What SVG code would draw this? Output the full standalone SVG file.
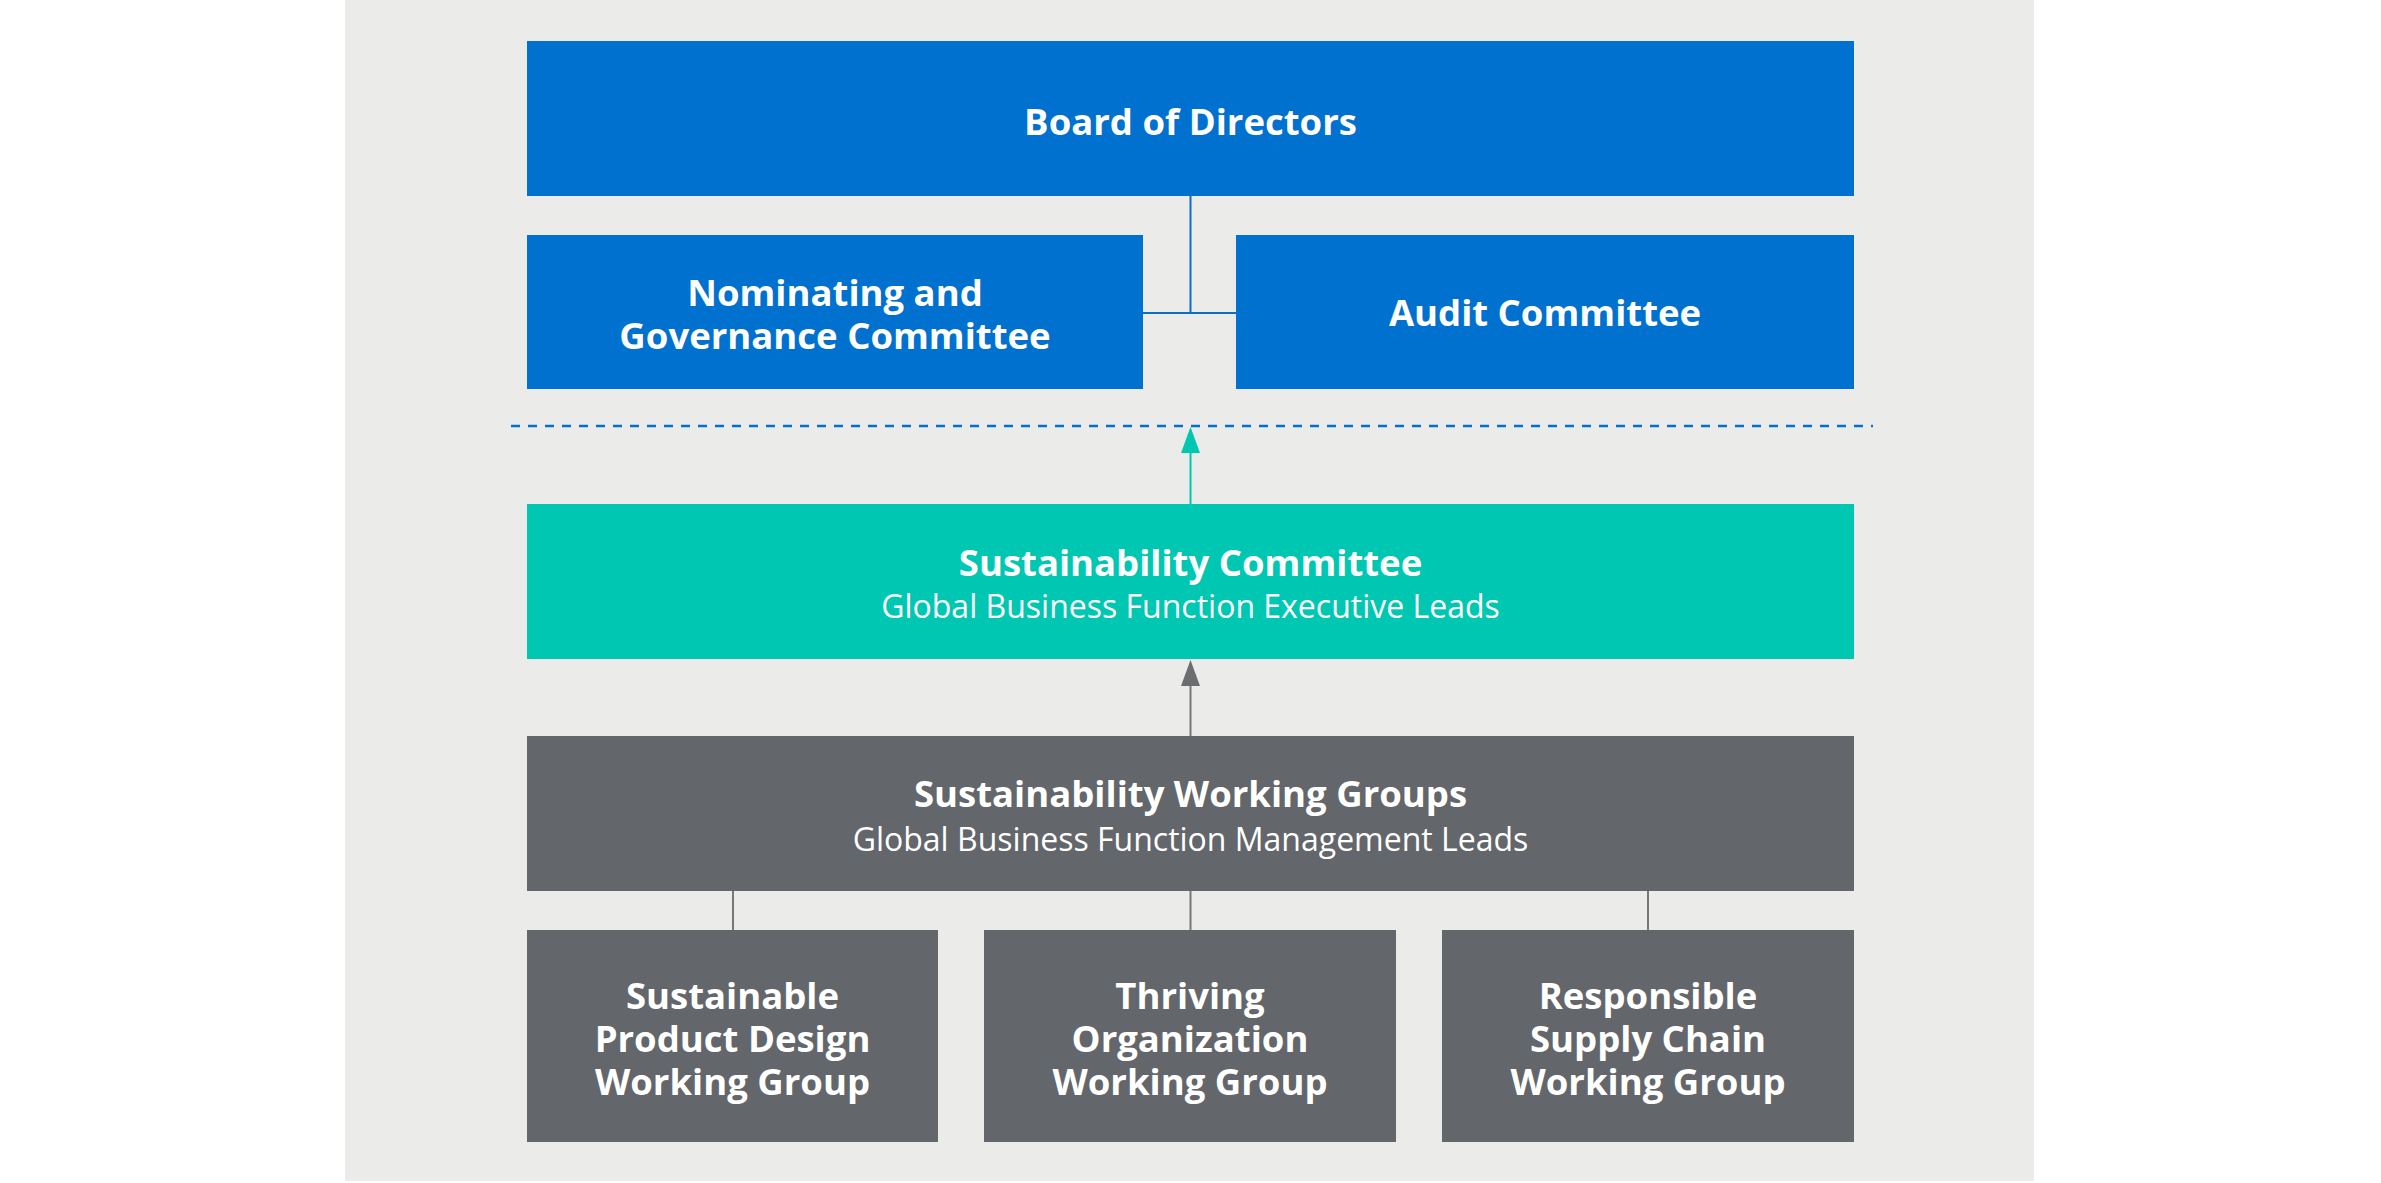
<svg xmlns="http://www.w3.org/2000/svg" width="2381" height="1183" viewBox="0 0 2381 1183">
  <style>
    .blue { fill: #0071ce; }
    .teal { fill: #00c7b2; }
    .gray { fill: #63666a; }
    .t { font-family: "Open Sans", "Noto Sans", "Liberation Sans", sans-serif; fill: #ffffff; text-anchor: middle; }
    .b { font-weight: 700; font-size: 36.5px; }
    .r { font-weight: 400; font-size: 32px; }
    .cb { stroke: #0d6fc4; stroke-width: 2; fill: none; }
    .ct { stroke: #00c7b2; stroke-width: 2; fill: none; }
    .cg { stroke: #76777a; stroke-width: 2; fill: none; }
  </style>
  <rect x="0" y="0" width="2381" height="1183" fill="#ffffff"/>
  <rect x="345" y="0" width="1689" height="1181" fill="#ebebe9"/>

  <g id="connectors">
    <path class="cb" d="M1190.5,196 V313 M1143,313 H1236"/>
    <path d="M511,426 H1873" stroke="#0071ce" stroke-width="2.5" stroke-dasharray="9 8" fill="none"/>
    <path class="ct" d="M1190.5,504 V450"/>
    <path d="M1190.5,427 L1181,453 L1200,453 Z" fill="#00c7b2"/>
    <path class="cg" d="M1190.5,736 V682"/>
    <path d="M1190.5,660 L1181,686 L1200,686 Z" fill="#6b6d70"/>
    <path class="cg" d="M733,891 V930 M1190.5,891 V930 M1648,891 V930"/>
  </g>

  <g id="board">
    <rect class="blue" x="527" y="41" width="1327" height="155"/>
    <text class="t b" x="1190.5" y="134.5">Board of Directors</text>
  </g>
  <g id="nominating">
    <rect class="blue" x="527" y="235" width="616" height="154"/>
    <text class="t b" x="835" y="305.5">Nominating and</text>
    <text class="t b" x="835" y="348.5">Governance Committee</text>
  </g>
  <g id="audit">
    <rect class="blue" x="1236" y="235" width="618" height="154"/>
    <text class="t b" x="1545" y="326">Audit Committee</text>
  </g>
  <g id="sustainability-committee">
    <rect class="teal" x="527" y="504" width="1327" height="155"/>
    <text class="t b" x="1190.5" y="575.5">Sustainability Committee</text>
    <text class="t r" x="1190.5" y="618">Global Business Function Executive Leads</text>
  </g>
  <g id="working-groups">
    <rect class="gray" x="527" y="736" width="1327" height="155"/>
    <text class="t b" x="1190.5" y="807">Sustainability Working Groups</text>
    <text class="t r" x="1190.5" y="851">Global Business Function Management Leads</text>
  </g>
  <g id="product-design">
    <rect class="gray" x="527" y="930" width="411" height="212"/>
    <text class="t b" x="732.5" y="1008.5">Sustainable</text>
    <text class="t b" x="732.5" y="1051.5">Product Design</text>
    <text class="t b" x="732.5" y="1094.5">Working Group</text>
  </g>
  <g id="thriving-organization">
    <rect class="gray" x="984" y="930" width="412" height="212"/>
    <text class="t b" x="1190" y="1008.5">Thriving</text>
    <text class="t b" x="1190" y="1051.5">Organization</text>
    <text class="t b" x="1190" y="1094.5">Working Group</text>
  </g>
  <g id="supply-chain">
    <rect class="gray" x="1442" y="930" width="412" height="212"/>
    <text class="t b" x="1648" y="1008.5">Responsible</text>
    <text class="t b" x="1648" y="1051.5">Supply Chain</text>
    <text class="t b" x="1648" y="1094.5">Working Group</text>
  </g>
</svg>
